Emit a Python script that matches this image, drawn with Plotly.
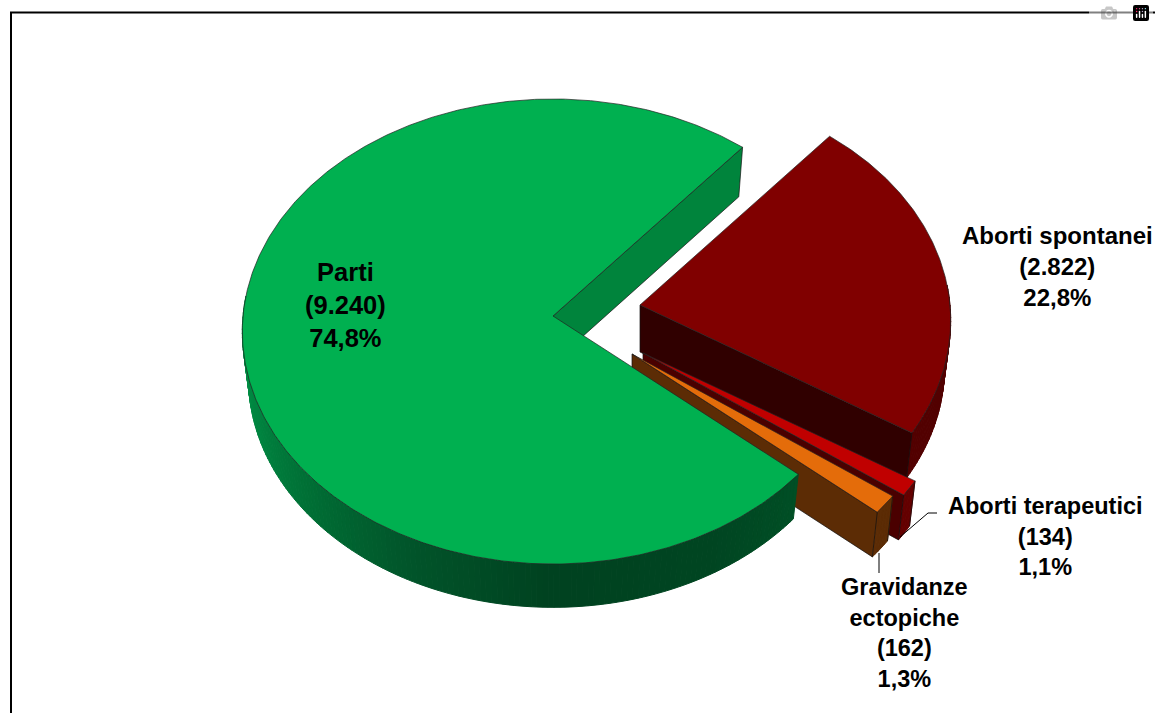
"""Exploded 3D-style pie of pregnancy outcomes."""

import numpy as np
import plotly.graph_objects as go

# data
categories = ["Aborti spontanei", "Aborti terapeutici", "Gravidanze ectopiche", "Parti"]
values = [2822, 134, 162, 9240]
count_labels = ["(2.822)", "(134)", "(162)", "(9.240)"]
pct_labels = ["22,8%", "1,1%", "1,3%", "74,8%"]

# slice styling
top_colors = ["#800000", "#c00000", "#e46c0a", "#00b050"]
cut_colors = ["#300000", "#4a0000", "#5c2c05", "#00843c"]
wall_colors = ["#520000", "#640000", "#5c2c05", None]
explode = [(87, -11), (90, 37), (79, 38), (0, 0)]

# green wall shading, by angle
green_angles = [130, 150, 180, 205, 230, 250, 270]
green_r = [0, 0, 0, 2, 0, 0, 0]
green_g = [80, 70, 66, 84, 112, 132, 146]
green_b = [38, 34, 32, 42, 54, 64, 70]

W, H = 1155, 713
CX, CY = 553, 316
RX, RY, K = 310, 231.5, 0.0667
DEPTH, SCALE_X, SCALE_Y = 47, 0.98, 0.985
START = 40


def project(theta, r=1.0, lower=False):
    """Map a disc point (degrees clockwise from north) to the page."""
    t = np.radians(theta)
    u, v = r * np.sin(t), r * np.cos(t)
    w = 1 + K * v
    x, y = RX * u / w, -RY * v / w
    if lower:
        return CX + x * SCALE_X, CY + DEPTH + y * SCALE_Y
    return CX + x, CY + y


def poly(fig, xs, ys, fill, line=None, width=0.8):
    fig.add_trace(go.Scatter(
        x=xs, y=ys, mode="lines", fill="toself", fillcolor=fill,
        line=dict(color=line or fill, width=width), hoverinfo="skip", showlegend=False,
    ))


def add_slice(fig, a0, a1, i):
    dx, dy = explode[i]
    thetas = np.linspace(a0, a1, max(int(a1 - a0) * 2, 4))

    # outer wall, front part only
    lo, hi = max(a0, 85), min(a1, 275)
    steps = np.arange(lo, hi, 1.0).tolist() + [hi]
    for t0, t1 in zip(steps[:-1], steps[1:]):
        if wall_colors[i]:
            color = wall_colors[i]
        else:
            m = (t0 + t1) / 2
            color = "rgb(%d,%d,%d)" % (
                np.interp(m, green_angles, green_r),
                np.interp(m, green_angles, green_g),
                np.interp(m, green_angles, green_b),
            )
        ux0, uy0 = project(t0)
        ux1, uy1 = project(t1)
        lx0, ly0 = project(t0, lower=True)
        lx1, ly1 = project(t1, lower=True)
        poly(fig, [ux0 + dx, ux1 + dx, lx1 + dx, lx0 + dx, ux0 + dx],
             [uy0 + dy, uy1 + dy, ly1 + dy, ly0 + dy, uy0 + dy], color, width=1)

    # cut face on the angle where the slice opens towards the viewer
    cut = a1 if i != 3 else a0 + 0
    if i == 3:
        cut = a1 % 360
    ax, ay = CX + dx, CY + dy
    bx, by = ax, ay + DEPTH
    ox, oy = project(cut)
    lx, ly = project(cut, lower=True)
    poly(fig, [ax, ox + dx, lx + dx, bx, ax], [ay, oy + dy, ly + dy, by, ay],
         cut_colors[i], line="#111111", width=0.7)

    # second cut face on the small slices
    if i in (1, 2):
        ox, oy = project(a0)
        lx, ly = project(a0, lower=True)
        fig.add_trace(go.Scatter(
            x=[ox + dx, lx + dx], y=[oy + dy, ly + dy], mode="lines",
            line=dict(color="#111111", width=0.7), hoverinfo="skip", showlegend=False,
        ))

    # top
    xs, ys = project(thetas)
    poly(fig, [CX + dx, *(xs + dx), CX + dx], [CY + dy, *(ys + dy), CY + dy],
         top_colors[i], line="#222222", width=0.7)


fig = go.Figure()

angle = START
spans = [v / sum(values) * 360 for v in values]
for i, span in enumerate(spans):
    add_slice(fig, angle, angle + span, i)
    angle += span

# leader lines
fig.add_trace(go.Scatter(x=[937, 928, 900], y=[513, 513, 537], mode="lines",
                         line=dict(color="black", width=1), hoverinfo="skip", showlegend=False))
fig.add_trace(go.Scatter(x=[879, 879], y=[553, 573], mode="lines",
                         line=dict(color="black", width=1), hoverinfo="skip", showlegend=False))

# labels
label_pos = [(1057, 266, 24), (1045, 536, 23.5), (904, 633, 23.5), (345, 305, 25.5)]
for i, (x, y, size) in enumerate(label_pos):
    name = categories[i].replace("Gravidanze ", "Gravidanze<br>")
    fig.add_annotation(
        x=x, y=y, xref="x", yref="y", showarrow=False, align="center",
        text="<b>%s<br>%s<br>%s</b>" % (name, count_labels[i], pct_labels[i]),
        font=dict(family="Liberation Sans", size=size, color="black"),
    )

fig.add_shape(type="rect", xref="x", yref="y", x0=11, y0=12.5, x1=W + 20, y1=H + 20,
              line=dict(color="black", width=2))

fig.update_xaxes(range=[0, W], visible=False, fixedrange=True)
fig.update_yaxes(range=[H, 0], visible=False, fixedrange=True)
fig.update_layout(width=W, height=H, margin=dict(l=0, r=0, t=0, b=0),
                  paper_bgcolor="white", plot_bgcolor="white", showlegend=False)

fig.write_html("out.html", post_script="document.body.style.margin='0';")
